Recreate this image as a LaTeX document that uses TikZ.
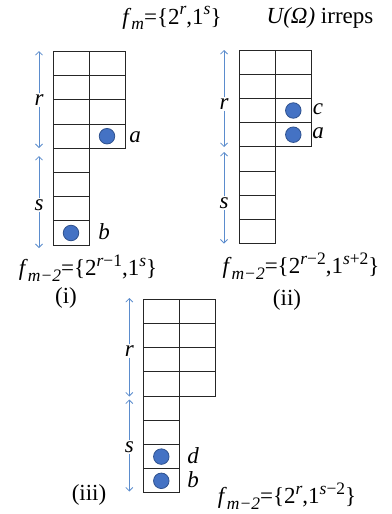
\documentclass[tikz,border=0pt]{standalone}
\usepackage{fontspec}
\setmainfont{Liberation Serif}
\usepackage{tikz}
\usetikzlibrary{arrows.meta}
\definecolor{dotblue}{RGB}{68,114,196}
\definecolor{dotedge}{RGB}{47,82,143}
\definecolor{dimblue}{RGB}{91,140,205}
\newcommand{\fsub}[1]{\textit{f}\raisebox{-0.25em}{\fontsize{17.5}{18}\selectfont\itshape #1}}
\newcommand{\fsup}[1]{\raisebox{0.42em}{\fontsize{17.5}{18}\selectfont #1}}

\begin{document}
\begin{tikzpicture}[x=1pt,y=-1pt,
  dot/.style={circle,draw=dotedge,fill=dotblue,line width=0.8pt,minimum size=15.5pt,inner sep=0pt},
  lab/.style={font=\fontsize{23}{24}\selectfont\itshape,inner sep=1pt},
  txt/.style={font=\fontsize{23}{24}\selectfont,inner sep=0pt},
  len/.style={draw=dimblue,line width=0.8pt,-{Straight Barb[length=3.5pt,width=7pt]}}]
  \useasboundingbox (0,0) rectangle (391,514);
  \foreach \x/\y in {53/51.5,239.3/50,143.3/299.3}{
    \foreach \i in {0,...,3}
      \draw[line width=1pt,black!85] (\x,\y+\i*24.2) rectangle ++(36,24.2) rectangle ++(36,-24.2);
    \foreach \i in {4,...,7}
      \draw[line width=1pt,black!85] (\x,\y+\i*24.2) rectangle ++(36,24.2);
  }

  \node[txt] (fm) at (172,18) {\fsub{m}=\{2\fsup{\textit{r}},1\fsup{\textit{s}}\}};
  \node[txt] (irr) at (320,18) {\textit{U(Ω)} irreps};

  \node[dot] (ia) at (107,136.2) {};  \node[lab] (ia-l) at (135,137) {a};
  \node[dot] (ib) at (71,233) {};     \node[lab] (ib-l) at (104,232) {b};
  \node[lab] (ir) at (39,100) {r};
  \coordinate (ir-t) at (39,51); \coordinate (ir-b) at (39,148);
  \draw[len] (ir) -- (ir-t); \draw[len] (ir) -- (ir-b);
  \node[lab] (is) at (39,205) {s};
  \coordinate (is-t) at (39,156); \coordinate (is-b) at (39,248);
  \draw[len] (is) -- (is-t); \draw[len] (is) -- (is-b);
  \node[txt] (if) at (88,268) {\fsub{m−2}=\{2\fsup{\textit{r}−1},1\fsup{\textit{s}}\}};
  \node[txt] (i) at (66,298) {(i)};

  \node[dot] (iic) at (293.3,110.5) {}; \node[lab] (iic-l) at (318,109) {c};
  \node[dot] (iia) at (293.3,134.7) {}; \node[lab] (iia-l) at (318,133) {a};
  \node[lab] (iir) at (224,104) {r};
  \coordinate (iir-t) at (224,50); \coordinate (iir-b) at (224,147);
  \draw[len] (iir) -- (iir-t); \draw[len] (iir) -- (iir-b);
  \node[lab] (iis) at (224,203) {s};
  \coordinate (iis-t) at (224,152); \coordinate (iis-b) at (224,243.5);
  \draw[len] (iis) -- (iis-t); \draw[len] (iis) -- (iis-b);
  \node[txt] (iif) at (301,266) {\fsub{m−2}=\{2\fsup{\textit{r}−2},1\fsup{\textit{s}+2}\}};
  \node[txt] (ii) at (287,300) {(ii)};

  \node[dot] (iiid) at (161.3,456.6) {}; \node[lab] (iiid-l) at (193,456) {d};
  \node[dot] (iiib) at (161.3,480.8) {}; \node[lab] (iiib-l) at (193,480) {b};
  \node[lab] (iiir) at (129.3,351) {r};
  \coordinate (iiir-t) at (129.3,298); \coordinate (iiir-b) at (129.3,396.5);
  \draw[len] (iiir) -- (iiir-t); \draw[len] (iiir) -- (iiir-b);
  \node[lab] (iiis) at (129.3,447) {s};
  \coordinate (iiis-t) at (129.3,399.5); \coordinate (iiis-b) at (129.3,491.5);
  \draw[len] (iiis) -- (iiis-t); \draw[len] (iiis) -- (iiis-b);
  \node[txt] (iiif) at (287,496) {\fsub{m−2}=\{2\fsup{\textit{r}},1\fsup{\textit{s}−2}\}};
  \node[txt] (iii) at (89,495) {(iii)};
\end{tikzpicture}
\end{document}
